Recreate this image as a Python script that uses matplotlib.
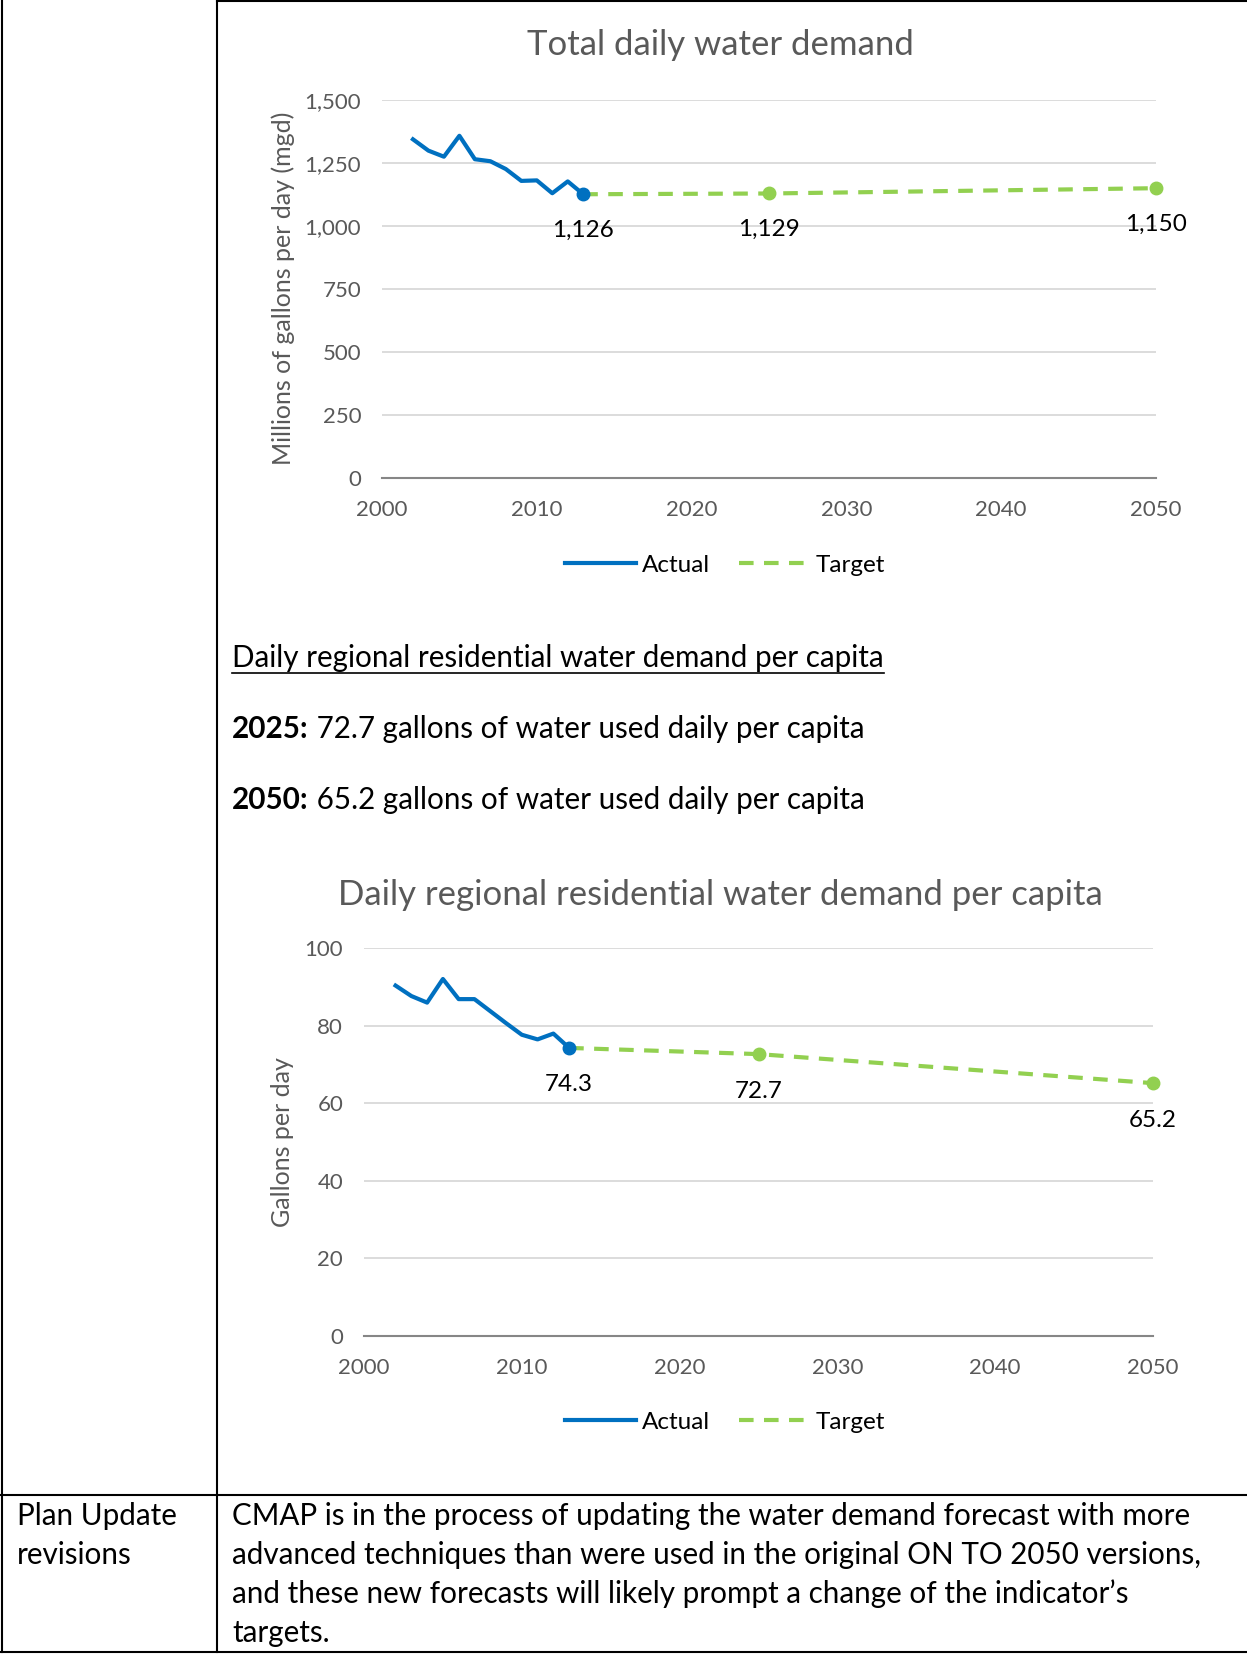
import matplotlib.pyplot as plt
from matplotlib.lines import Line2D
from matplotlib.ticker import FuncFormatter

plt.rcParams['font.family'] = ['Lato', 'DejaVu Sans']

# ----------------------------
# data
# ----------------------------
actual_years = [2002, 2003, 2004, 2005, 2006, 2007, 2008, 2009, 2010, 2011, 2012, 2013]
demand_actual = [1344, 1299, 1275, 1358, 1265, 1257, 1226, 1179, 1181, 1130, 1177, 1126]
percap_actual = [90.4, 87.7, 86.0, 92.1, 86.9, 86.9, 83.8, 80.7, 77.7, 76.5, 78.0, 74.3]

target_years = [2013, 2025, 2050]
demand_target = [1126, 1129, 1150]
percap_target = [74.3, 72.7, 65.2]

x_ticks = [2000, 2010, 2020, 2030, 2040, 2050]
demand_ticks = [0, 250, 500, 750, 1000, 1250, 1500]
percap_ticks = [0, 20, 40, 60, 80, 100]

BLUE = '#0070C0'
GREEN = '#92D050'
GRAY = '#595959'
DASH = [3.5, 2.5]

W, H = 1247, 1654
fig = plt.figure(figsize=(W / 100, H / 100), dpi=100)

# page layer in pixel coordinates (table frame + body text)
bg = fig.add_axes([0, 0, 1, 1])
bg.set_xlim(0, W)
bg.set_ylim(H, 0)
bg.axis('off')

lw_tab = 1.5
bg.plot([2, 2], [0, 1652], color='black', lw=lw_tab)
bg.plot([217, 217], [0, 1652], color='black', lw=lw_tab)
bg.plot([217, 1247], [1, 1], color='black', lw=lw_tab)
bg.plot([0, 1247], [1495, 1495], color='black', lw=lw_tab)
bg.plot([0, 1247], [1652, 1652], color='black', lw=lw_tab)


def make_chart(rect, years, actual, t_years, target, ticks, fmt, title, title_xy,
               ylabel, ylabel_xy, legend_xy, label_off):
    ax = fig.add_axes(rect)
    ax.plot(years, actual, color=BLUE, lw=3, marker='o', markersize=9,
            markevery=[len(years) - 1], zorder=4)
    tl, = ax.plot(t_years, target, color=GREEN, lw=3, marker='o', markersize=9,
                  markevery=[1, 2], zorder=3, clip_on=False)
    tl.set_dashes(DASH)

    for x, v in zip(t_years, target):
        ax.annotate(fmt(v), (x, v), xytext=(0, -label_off), textcoords='offset pixels',
                    ha='center', va='center', fontsize=17.5, color='black')

    ax.set_xlim(2000, 2050)
    ax.set_ylim(ticks[0], ticks[-1])
    ax.set_xticks(x_ticks)
    ax.set_yticks(ticks)
    ax.yaxis.set_major_formatter(FuncFormatter(lambda v, p: f'{v:,.0f}'))
    ax.grid(axis='y', color='#d9d9d9', lw=1.3)
    ax.set_axisbelow(True)
    for s in ['top', 'right', 'left']:
        ax.spines[s].set_visible(False)
    ax.spines['bottom'].set_color('#868686')
    ax.spines['bottom'].set_linewidth(1.5)
    ax.spines['bottom'].set_zorder(2)
    ax.tick_params(length=0, labelsize=16, labelcolor=GRAY)
    ax.tick_params(axis='x', pad=16)
    ax.tick_params(axis='y', pad=15)

    bg.text(title_xy[0], title_xy[1], title, ha='center', va='center',
            fontsize=25, color=GRAY)
    bg.text(ylabel_xy[0], ylabel_xy[1], ylabel, ha='center', va='center',
            rotation=90, fontsize=18, color=GRAY)

    h_act = Line2D([], [], color=BLUE, lw=3)
    h_tgt = Line2D([], [], color=GREEN, lw=3, dashes=DASH)
    fig.legend(handles=[h_act, h_tgt], labels=['Actual', 'Target'], loc='center',
               ncol=2, frameon=False,
               bbox_to_anchor=(legend_xy[0] / W, 1 - legend_xy[1] / H),
               fontsize=17.5, handlelength=2.9, handletextpad=0.25, columnspacing=1.2,
               labelcolor='black')
    return ax


make_chart([382 / W, 1 - 478 / H, 774 / W, 378 / H], actual_years, demand_actual,
           target_years, demand_target, demand_ticks, lambda v: f'{v:,.0f}',
           'Total daily water demand', (720, 45),
           'Millions of gallons per day (mgd)', (283, 288), (725, 565), 36)

make_chart([364 / W, 1 - 1335.6 / H, 789 / W, 387.2 / H], actual_years, percap_actual,
           target_years, percap_target, percap_ticks, lambda v: f'{v:.1f}',
           'Daily regional residential water demand per capita', (720, 895),
           'Gallons per day', (283, 1142), (725, 1422), 37)

# body text
body = 21.3
renderer = fig.canvas.get_renderer()
h = bg.text(232, 658, 'Daily regional residential water demand per capita',
            fontsize=body, va='center', ha='left')
bb = h.get_window_extent(renderer)
bg.plot([bb.x0, bb.x1], [673, 673], color='black', lw=1.2)

for y, year, rest in [(729, '2025:', ' 72.7 gallons of water used daily per capita'),
                      (800, '2050:', ' 65.2 gallons of water used daily per capita')]:
    b = bg.text(232, y, year, fontsize=body, fontweight='bold', va='center', ha='left')
    e = b.get_window_extent(renderer)
    bg.text(e.x1, y, rest, fontsize=body, va='center', ha='left')

bg.text(17, 1516, 'Plan Update', fontsize=body, va='center', ha='left')
bg.text(17, 1555, 'revisions', fontsize=body, va='center', ha='left')
para = ['CMAP is in the process of updating the water demand forecast with more',
        'advanced techniques than were used in the original ON TO 2050 versions,',
        'and these new forecasts will likely prompt a change of the indicator\u2019s',
        'targets.']
for i, line in enumerate(para):
    bg.text(232, 1516 + 39 * i, line, fontsize=body, va='center', ha='left')

fig.savefig('out.png', dpi=100)
